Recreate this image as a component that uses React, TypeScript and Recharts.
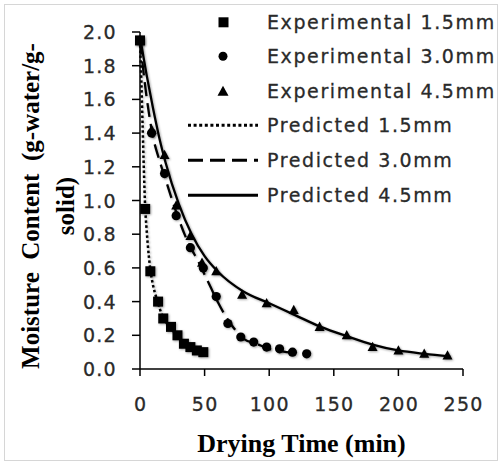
import React from 'react';
import { ComposedChart, Line, Scatter, XAxis, YAxis, Legend } from 'recharts';

// Experimental data (drying time in min, moisture content)
const exp15T = [0, 4, 8, 14, 18, 24, 29, 34, 39, 44, 49];
const exp15M = [1.95, 0.95, 0.58, 0.4, 0.3, 0.25, 0.2, 0.15, 0.13, 0.11, 0.1];

const exp30T = [0, 9, 19, 28, 39, 49, 59, 68, 78, 88, 98, 108, 118, 129];
const exp30M = [1.95, 1.4, 1.16, 0.91, 0.72, 0.6, 0.43, 0.27, 0.19, 0.16, 0.13, 0.12, 0.1, 0.09];

const exp45T = [0, 9, 19, 28, 39, 48, 59, 79, 98, 119, 139, 160, 180, 200, 220, 238];
const exp45M = [1.95, 1.42, 1.27, 0.97, 0.79, 0.63, 0.58, 0.44, 0.39, 0.35, 0.25, 0.2, 0.13, 0.11, 0.09, 0.08];

// Predicted curves
const pred15T = [0, 1, 2, 3, 4, 5, 6, 8, 10, 12, 14, 17, 20, 25, 30, 35, 40, 45, 50];
const pred15M = [1.95, 1.72, 1.45, 1.18, 0.96, 0.84, 0.74, 0.59, 0.5, 0.44, 0.39, 0.32, 0.28, 0.23, 0.19, 0.16, 0.13, 0.115, 0.1];

const pred30T = [0, 5, 10, 15, 20, 25, 30, 35, 40, 45, 50, 55, 60, 65, 70, 75, 80, 90, 100, 110, 120];
const pred30M = [1.95, 1.62, 1.38, 1.24, 1.12, 1.0, 0.89, 0.79, 0.71, 0.64, 0.56, 0.48, 0.4, 0.33, 0.27, 0.22, 0.18, 0.15, 0.12, 0.105, 0.095];

const pred45T = [0, 5, 10, 15, 20, 30, 40, 50, 60, 80, 100, 120, 140, 160, 180, 200, 220, 240];
const pred45M = [1.97, 1.75, 1.55, 1.37, 1.22, 0.98, 0.8, 0.67, 0.58, 0.46, 0.39, 0.32, 0.25, 0.195, 0.145, 0.11, 0.09, 0.075];

const xTicks = [0, 50, 100, 150, 200, 250];
const yTicks = [0, 0.2, 0.4, 0.6, 0.8, 1.0, 1.2, 1.4, 1.6, 1.8, 2.0];

const seriesNames = [
  'Experimental 1.5mm',
  'Experimental 3.0mm',
  'Experimental 4.5mm',
  'Predicted 1.5mm',
  'Predicted 3.0mm',
  'Predicted 4.5mm',
];

const zip = (t: number[], m: number[]) => t.map((v, i) => ({ t: v, m: m[i] }));

const exp15 = zip(exp15T, exp15M);
const exp30 = zip(exp30T, exp30M);
const exp45 = zip(exp45T, exp45M);
const pred15 = zip(pred15T, pred15M);
const pred30 = zip(pred30T, pred30M);
const pred45 = zip(pred45T, pred45M);

const SANS = "'DejaVu Sans', Verdana, sans-serif";
const SERIF = "'Liberation Serif', 'Times New Roman', serif";
const TXT = '#2a2a2a';
const SH = 'url(#softShadow)';

const SquareShape = (p: any) => <rect x={p.cx - 5} y={p.cy - 5} width={10} height={10} fill="#000" filter={SH} />;
const CircleShape = (p: any) => <circle cx={p.cx} cy={p.cy} r={4.6} fill="#000" filter={SH} />;
const TriangleShape = (p: any) => (
  <polygon points={`${p.cx},${p.cy - 5.3} ${p.cx - 5},${p.cy + 4} ${p.cx + 5},${p.cy + 4}`} fill="#000" filter={SH} />
);

const YTick = (p: any) => (
  <text x={p.x} y={p.y} textAnchor="end" dominantBaseline="central" fill={TXT} stroke={TXT} strokeWidth={0.3}
    style={{ fontFamily: SANS, fontSize: 19, letterSpacing: 1.3 }}>
    {Number(p.payload.value).toFixed(1)}
  </text>
);

const XTick = (p: any) => (
  <text x={p.x + 0.6} y={p.y} dy="0.71em" textAnchor="middle" fill={TXT} stroke={TXT} strokeWidth={0.3}
    style={{ fontFamily: SANS, fontSize: 19, letterSpacing: 1.3 }}>
    {p.payload.value}
  </text>
);

const XLabel = (p: any) => {
  const vb = p.viewBox || {};
  return (
    <text x={vb.x + vb.width / 2} y={vb.y + 83} textAnchor="middle" fill="#000"
      style={{ fontFamily: SERIF, fontSize: 26, fontWeight: 'bold' }}>
      Drying Time (min)
    </text>
  );
};

const YLabel = (p: any) => {
  const vb = p.viewBox || {};
  const cy = vb.y + 174;
  return (
    <g style={{ fontFamily: SERIF, fontSize: 25, fontWeight: 'bold' }} fill="#000">
      <text x={39} y={cy} textAnchor="middle" transform={`rotate(-90, 39, ${cy})`}>
        {'Moisture\u00A0\u00A0Content\u00A0\u00A0(g-water/g-'}
      </text>
      <text x={74} y={cy} textAnchor="middle" transform={`rotate(-90, 74, ${cy})`}>
        solid)
      </text>
    </g>
  );
};

const legendIcon = (i: number) => {
  const cy = 17.3;
  if (i === 0) return <rect x={38.5} y={cy - 5} width={10} height={10} fill="#000" />;
  if (i === 1) return <circle cx={43} cy={cy} r={4.5} fill="#000" />;
  if (i === 2) return <polygon points={`43,${cy - 5.5} 37.5,${cy + 4.5} 48.5,${cy + 4.5}`} fill="#000" />;
  const dash = i === 3 ? '3 2.6' : i === 4 ? '15 7' : undefined;
  return <line x1={8} y1={cy} x2={78} y2={cy} stroke="#000" strokeWidth={3} strokeDasharray={dash} />;
};

const LegendContent = () => (
  <div style={{ display: 'flex', flexDirection: 'column' }}>
    {seriesNames.map((n, i) => (
      <div key={n} style={{ display: 'flex', alignItems: 'center', height: 34.6 }}>
        <svg width={80} height={34.6} style={{ display: 'block', flexShrink: 0 }}>{legendIcon(i)}</svg>
        <span style={{ marginLeft: 7, flexShrink: 0, fontFamily: SANS, fontSize: 19, letterSpacing: 1.6, color: TXT,
          whiteSpace: 'nowrap', lineHeight: '34.6px', WebkitTextStroke: '0.3px #2a2a2a' }}>
          {n}
        </span>
      </div>
    ))}
  </div>
);

export default function App() {
  return (
    <div style={{ position: 'absolute', left: 0, top: 0, width: 499, height: 463, background: '#fff', overflow: 'hidden' }}>
      <svg width={0} height={0} style={{ position: 'absolute' }}>
        <defs>
          <filter id="softShadow" x="-50%" y="-50%" width="200%" height="200%">
            <feDropShadow dx={1} dy={1} stdDeviation={1.3} floodColor="#000" floodOpacity={0.35} />
          </filter>
        </defs>
      </svg>
      <div style={{ position: 'absolute', left: 4, top: 4, width: 492, height: 455, border: '1px solid #d6d6d6' }} />
      <ComposedChart width={499} height={463} margin={{ top: 32, right: 36, bottom: 0, left: 0 }}>
        <XAxis
          type="number"
          dataKey="t"
          domain={[0, 250]}
          ticks={xTicks}
          height={94}
          axisLine={{ stroke: '#000', strokeWidth: 1.5 }}
          tickLine={{ stroke: '#000', strokeWidth: 1.5 }}
          tickSize={7}
          tickMargin={22}
          tick={XTick}
          label={<XLabel />}
        />
        <YAxis
          type="number"
          dataKey="m"
          domain={[0, 2]}
          ticks={yTicks}
          width={140}
          axisLine={{ stroke: '#000', strokeWidth: 1.5 }}
          tickLine={{ stroke: '#000', strokeWidth: 1.5 }}
          tickSize={8}
          tickMargin={15}
          tick={YTick}
          label={<YLabel />}
        />
        <Legend
          layout="horizontal"
          verticalAlign="middle"
          content={<LegendContent />}
          wrapperStyle={{ top: 4.7, left: 180, width: 315 }}
        />
        <Line data={pred15} dataKey="m" name={seriesNames[3]} type="monotone" stroke="#000" strokeWidth={2.5}
          strokeDasharray="2.5 2.5" dot={false} activeDot={false} isAnimationActive={false} filter={SH} />
        <Line data={pred30} dataKey="m" name={seriesNames[4]} type="monotone" stroke="#000" strokeWidth={2.3}
          strokeDasharray="14 7" dot={false} activeDot={false} isAnimationActive={false} filter={SH} />
        <Line data={pred45} dataKey="m" name={seriesNames[5]} type="monotone" stroke="#000" strokeWidth={2.3}
          dot={false} activeDot={false} isAnimationActive={false} filter={SH} />
        <Scatter data={exp15} dataKey="m" name={seriesNames[0]} shape={SquareShape} isAnimationActive={false} />
        <Scatter data={exp30} dataKey="m" name={seriesNames[1]} shape={CircleShape} isAnimationActive={false} />
        <Scatter data={exp45} dataKey="m" name={seriesNames[2]} shape={TriangleShape} isAnimationActive={false} />
      </ComposedChart>
    </div>
  );
}
